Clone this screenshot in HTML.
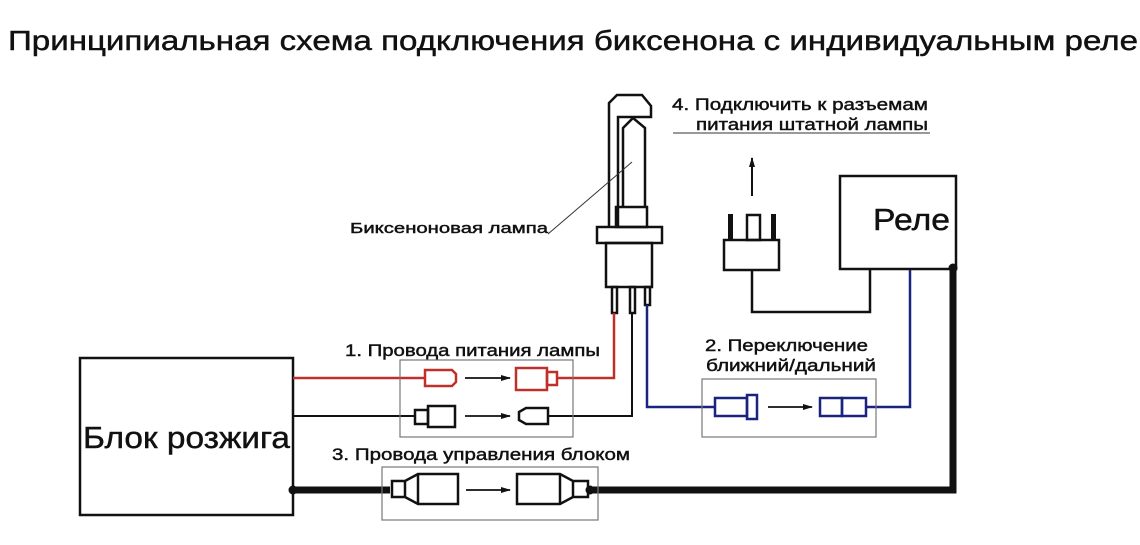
<!DOCTYPE html>
<html><head><meta charset="utf-8"><style>
html,body{margin:0;padding:0;background:#fff;}
svg{display:block;}
text{font-family:"Liberation Sans","DejaVu Sans",sans-serif;fill:#111;stroke:#111;stroke-width:0.45;}
</style></head><body>
<svg width="1140" height="545" viewBox="0 0 1140 545" xmlns="http://www.w3.org/2000/svg">
<defs><marker id="ah" markerWidth="10" markerHeight="8" refX="9" refY="4" orient="auto" markerUnits="userSpaceOnUse"><path d="M0,1 L10,4 L0,7 Z" fill="#111"/></marker></defs>
<text x="8" y="50" font-size="28" textLength="1130" lengthAdjust="spacingAndGlyphs">Принципиальная схема подключения биксенона с индивидуальным реле</text>

<!-- Block -->
<rect x="80" y="358" width="213" height="157" fill="none" stroke="#111" stroke-width="2.5"/>
<text x="83" y="448" font-size="31" textLength="207" lengthAdjust="spacingAndGlyphs">Блок розжига</text>

<!-- Relay -->
<rect x="840" y="176" width="116" height="93" fill="none" stroke="#111" stroke-width="2.5"/>
<text x="873" y="230" font-size="31" textLength="77" lengthAdjust="spacingAndGlyphs">Реле</text>

<!-- Lamp -->
<g fill="none" stroke="#111" stroke-width="2.5">
<path d="M609,227 V103 L617,95 H642 L651,106 V117 H618 V227"/>
<path d="M623,207 V128 L633,118 L645,128 V207"/>
<rect x="616" y="207" width="31" height="20"/>
<rect x="597" y="227" width="65" height="16"/>
<rect x="606" y="243" width="46" height="44"/>
<rect x="612" y="287" width="5" height="26"/>
<rect x="630" y="287" width="5" height="26"/>
<rect x="645" y="287" width="5" height="18"/>
</g>
<line x1="548" y1="234" x2="632" y2="162" stroke="#333" stroke-width="1"/>
<text x="350" y="233" font-size="15" textLength="198" lengthAdjust="spacingAndGlyphs">Биксеноновая лампа</text>

<!-- label 4 -->
<text x="672" y="110" font-size="17" textLength="256" lengthAdjust="spacingAndGlyphs">4. Подключить к разъемам</text>
<text x="696" y="130" font-size="17" textLength="232" lengthAdjust="spacingAndGlyphs">питания штатной лампы</text>
<line x1="673" y1="133" x2="930" y2="133" stroke="#333" stroke-width="1"/>
<line x1="752" y1="196" x2="752" y2="158" stroke="#111" stroke-width="2" marker-end="url(#ah)"/>

<!-- plug -->
<g fill="none" stroke="#111" stroke-width="2.5">
<rect x="724" y="240" width="55" height="30"/>
<rect x="747" y="215" width="13" height="25"/>
<path d="M752,270 V312 H870 V270"/>
</g>
<rect x="728" y="214" width="5" height="26" fill="#111"/>
<rect x="771" y="214" width="5" height="26" fill="#111"/>

<!-- wires -->
<path d="M293,378 H425 M557,378 H614 V313" fill="none" stroke="#c0302a" stroke-width="2.5"/>
<path d="M293,416 H415 M548,416 H632 V313" fill="none" stroke="#111" stroke-width="2"/>
<path d="M647,305 V407 H715 M866,407 H910 V270" fill="none" stroke="#1a237e" stroke-width="2.5"/>
<path d="M293,490 H390 M590,490 H953 V268" fill="none" stroke="#111" stroke-width="7"/>
<circle cx="293" cy="490" r="4.5" fill="#111"/><circle cx="590" cy="490" r="4.5" fill="#111"/><circle cx="953" cy="268" r="4.5" fill="#111"/>

<!-- box 1 -->
<text x="345" y="356" font-size="17" textLength="255" lengthAdjust="spacingAndGlyphs">1. Провода питания лампы</text>
<rect x="400" y="360" width="173" height="77" fill="none" stroke="#777" stroke-width="1.2"/>
<g fill="none" stroke="#c0302a" stroke-width="2.5">
<path d="M425,370 H452 L456,374 V382 L452,386 H425 Z"/>
<rect x="516" y="368" width="31" height="22"/><rect x="547" y="372" width="10" height="13"/>
</g>
<g fill="none" stroke="#111" stroke-width="2.5">
<rect x="415" y="410" width="13" height="14"/><rect x="428" y="406" width="27" height="21"/>
<path d="M548,408 H526 L519,412 V420 L526,424 H548 Z"/>
</g>
<line x1="465" y1="378" x2="510" y2="378" stroke="#111" stroke-width="1.8" marker-end="url(#ah)"/>
<line x1="465" y1="416" x2="510" y2="416" stroke="#111" stroke-width="1.8" marker-end="url(#ah)"/>

<!-- box 2 -->
<text x="705" y="351" font-size="17" textLength="163" lengthAdjust="spacingAndGlyphs">2. Переключение</text>
<text x="706" y="371" font-size="17" textLength="170" lengthAdjust="spacingAndGlyphs">ближний/дальний</text>
<rect x="702" y="379" width="174" height="58" fill="none" stroke="#777" stroke-width="1.2"/>
<g fill="none" stroke="#1a237e" stroke-width="2.5">
<rect x="715" y="398" width="32" height="18"/><rect x="747" y="395" width="10" height="24"/>
<rect x="820" y="398" width="22" height="18"/><rect x="842" y="398" width="24" height="18"/>
</g>
<line x1="768" y1="407" x2="812" y2="407" stroke="#111" stroke-width="1.8" marker-end="url(#ah)"/>

<!-- box 3 -->
<text x="332" y="460" font-size="17" textLength="298" lengthAdjust="spacingAndGlyphs">3. Провода управления блоком</text>
<rect x="382" y="467" width="216" height="53" fill="none" stroke="#777" stroke-width="1.2"/>
<g fill="none" stroke="#111" stroke-width="2.5">
<path d="M392,481 H405 L418,474 H458 V504 H418 L405,497 H392 Z"/><line x1="418" y1="474" x2="418" y2="504"/>
<path d="M588,481 H573 L560,474 H517 V504 H560 L573,497 H588 Z"/><line x1="560" y1="474" x2="560" y2="504"/>
<line x1="405" y1="481" x2="405" y2="497"/><line x1="573" y1="481" x2="573" y2="497"/>
</g>
<line x1="466" y1="490" x2="510" y2="490" stroke="#111" stroke-width="1.8" marker-end="url(#ah)"/>
</svg>
</body></html>
